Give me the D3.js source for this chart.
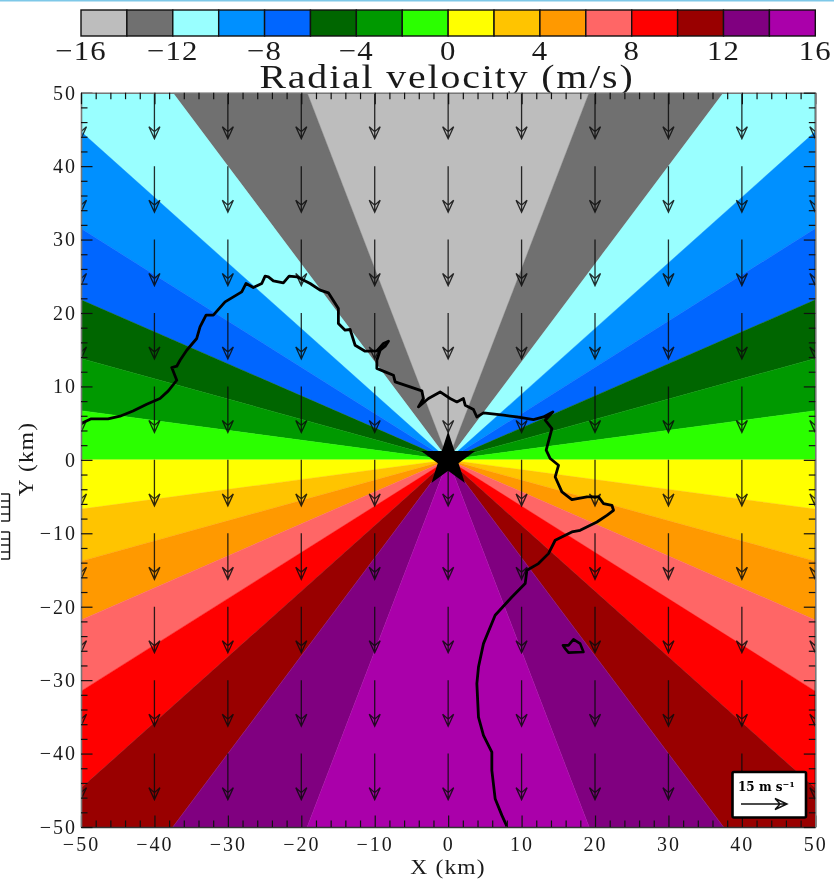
<!DOCTYPE html>
<html><head><meta charset="utf-8">
<style>
html,body{margin:0;padding:0;background:#fff;overflow:hidden}
svg{display:block;filter:blur(0.45px)}
text{font-family:"Liberation Serif","DejaVu Serif",serif;fill:#1a1a1a}
</style>
<script src="https://cdn.jsdelivr.net/npm/d3@7/dist/d3.min.js"></script>
</head><body><svg id="c" width="834" height="882"></svg>
<script>
const levels=[-16,-14,-12,-10,-8,-6,-4,-2,0,2,4,6,8,10,12,14,16];
const colorbarTicks=[-16,-12,-8,-4,0,4,8,12,16];
const bandColors=["#bdbdbd","#707070","#99ffff","#0090ff","#0066ff","#006600","#009900","#2bff00","#ffff00","#ffc400","#ff9900","#ff6666","#ff0000","#990000","#800080","#aa00aa"];
// where each band boundary meets the frame on the right side, top to bottom (km)
const bandEdges=[[19.2,50],[37.5,50],[50,44.7],[50,31.5],[50,21.8],[50,13.8],[50,6.7],[50,0],[50,-6.7],[50,-13.8],[50,-21.8],[50,-31.5],[50,-44.7],[37.5,-50],[19.2,-50]];
const axisTicks=[-50,-40,-30,-20,-10,0,10,20,30,40,50];
const minorTicks=[-48,-46,-44,-42,-38,-36,-34,-32,-28,-26,-24,-22,-18,-16,-14,-12,-8,-6,-4,-2,2,4,6,8,12,14,16,18,22,24,26,28,32,34,36,38,42,44,46,48];
const arrowX=[-50,-40,-30,-20,-10,0,10,20,30,40,50];
const arrowY=[50,40,30,20,10,0,-10,-20,-30,-40];
const windU=0, windV=-15, keySpeed=15;
const coast=[[-50,4.95],[-48.68,5.57],[-46.32,5.57],[-44.69,5.94],[-42.92,6.66],[-41.05,7.57],[-39.24,8.35],[-38.11,9.39],[-36.96,10.84],[-37.64,12.57],[-36.96,12.75],[-36.51,13.57],[-35.6,14.93],[-34.24,16.53],[-33.79,18.11],[-32.97,19.7],[-31.98,19.7],[-30.38,21.51],[-28.11,22.87],[-27.52,24.02],[-26.53,23.47],[-25.38,24.02],[-24.93,25.01],[-24.48,24.92],[-23.8,24.37],[-22.44,24.1],[-21.66,25.01],[-20.61,24.92],[-18.8,24.02],[-17.44,23.11],[-16.31,22.74],[-14.95,20.61],[-14.95,18.57],[-14.03,17.66],[-13.35,17.75],[-12.67,15.61],[-11.31,14.8],[-9.71,14.84],[-8.81,15.84],[-8.13,16.16],[-8.58,15.48],[-9.26,14.93],[-9.71,13.57],[-9.71,12.44],[-8.58,11.98],[-7.45,11.53],[-7.22,10.61],[-5.18,9.93],[-3.58,9.39],[-3.37,8.35],[-4.05,7.21],[-2.68,8.35],[-1.09,9.25],[0.27,8.35],[1.19,7.89],[2.08,8.35],[2.32,7.44],[3.45,6.85],[3.91,5.84],[4.81,6.39],[7.53,6.08],[9.36,5.84],[11.62,5.49],[12.98,5.84],[14.26,6.53],[13.22,5.4],[14.13,4.26],[13.35,1.31],[13.9,0.18],[15.03,-0.74],[14.58,-2.33],[15.49,-4.37],[16.85,-5.41],[18.9,-5.05],[20.48,-5.05],[21.16,-5.95],[22.3,-6.19],[22.52,-6.87],[21.62,-7.55],[20.26,-8.46],[17.98,-9.59],[16.85,-9.82],[14.58,-10.95],[13.66,-12.77],[12.3,-14.13],[10.72,-15.04],[10.49,-16.85],[8.68,-18.68],[6.4,-21.17],[4.81,-25.03],[4.13,-28.22],[3.91,-30.48],[4.13,-35.03],[4.81,-37.52],[5.95,-39.8],[5.95,-42.29],[6.4,-46.14],[7.32,-48.42],[8,-49.92]];
const island=[[15.63,-25.26],[16.39,-25.26],[17.07,-24.44],[17.98,-25.03],[18.43,-26.17],[16.39,-26.25],[15.94,-25.71]];

const svg=d3.select("#c");
const L=81,R=815.3,T=92.7,B=827;
const x=d3.scaleLinear().domain([-50,50]).range([L,R]);
const y=d3.scaleLinear().domain([-50,50]).range([B,T]);
const cb=d3.scaleLinear().domain([-16,16]).range([L,R]);

// top rule
svg.append("rect").attr("x",0).attr("y",0).attr("width",834).attr("height",1.5).attr("fill","#7ec8e8");

// colorbar
svg.append("g").selectAll("rect").data(bandColors).join("rect")
  .attr("x",(d,i)=>cb(levels[i])).attr("width",(d,i)=>cb(levels[i+1])-cb(levels[i]))
  .attr("y",10).attr("height",26).attr("fill",d=>d)
  .attr("stroke","#111").attr("stroke-width",1.4);
svg.append("g").selectAll("text").data(colorbarTicks).join("text")
  .attr("transform",d=>`translate(${cb(d)},60) scale(1.12,1)`).attr("text-anchor","middle")
  .attr("font-size",27.5).attr("letter-spacing",1)
  .text(d=>d3.format("d")(d));
svg.append("text").attr("transform","translate(447,88) scale(1.17,1)").attr("text-anchor","middle")
  .attr("font-size",34).attr("letter-spacing",1.6).text("Radial velocity (m/s)");

// plot
const defs=svg.append("defs");
defs.append("clipPath").attr("id","plotClip").append("rect")
  .attr("x",L).attr("y",T).attr("width",R-L).attr("height",B-T);
const plot=svg.append("g").attr("clip-path","url(#plotClip)");
const line=d3.line().x(d=>x(d[0])).y(d=>y(d[1]));
function wedge(a,b){
  const p=[[0,0],a];
  if(a[0]!==b[0]&&a[1]!==b[1]) p.push([Math.abs(a[0])===50?a[0]:b[0],Math.abs(a[1])===50?a[1]:b[1]]);
  p.push(b);return p;
}
const mirror=p=>[-p[0],p[1]];
const polys=[];
bandColors.forEach((c,i)=>{
  if(i===0) polys.push({c,p:wedge(mirror(bandEdges[0]),bandEdges[0])});
  else if(i===bandColors.length-1) polys.push({c,p:wedge(mirror(bandEdges[i-1]),bandEdges[i-1])});
  else{
    polys.push({c,p:wedge(bandEdges[i-1],bandEdges[i])});
    polys.push({c,p:wedge(mirror(bandEdges[i-1]),mirror(bandEdges[i]))});
  }
});
plot.append("g").selectAll("path").data(polys).join("path")
  .attr("d",d=>line(d.p)+"Z").attr("fill",d=>d.c).attr("stroke",d=>d.c).attr("stroke-width",0.4);

// wind vectors
const kmPerMs=6.27/15;
const grid=d3.cross(arrowX,arrowY);
function arrowPath(x0,y0,x1,y1){
  const len=Math.hypot(x1-x0,y1-y0),ux=(x1-x0)/len,uy=(y1-y0)/len,nx=-uy,ny=ux;
  const pt=(b,s)=>[x1-ux*b+nx*s,y1-uy*b+ny*s];
  const a=pt(12,5.5),c=pt(12,-5.5),n=pt(7,0);
  return `M${x0},${y0}L${x1},${y1}M${a}L${x1},${y1}L${c}L${n}Z`;
}
plot.append("g").attr("fill","none").attr("stroke","#0a0a0a").attr("stroke-width",1.3).attr("stroke-opacity",0.85)
  .selectAll("path").data(grid).join("path")
  .attr("d",d=>arrowPath(x(d[0]),y(d[1]),x(d[0]+windU*kmPerMs),y(d[1]+windV*kmPerMs)));

// coast
plot.append("path").attr("d",line(coast)).attr("fill","none").attr("stroke","#000").attr("stroke-width",2.8).attr("stroke-linejoin","round");
plot.append("path").attr("d",line(island)+"Z").attr("fill","none").attr("stroke","#000").attr("stroke-width",2.6).attr("stroke-linejoin","round");

// station star
svg.append("path").attr("d",d3.symbol(d3.symbolStar,912)()).attr("transform",`translate(${x(0)},${y(0)})`).attr("fill","#000");

// axes
const fmt=d=>d3.format("d")(d);
function style(g,frame){
  g.selectAll(".domain").attr("stroke",frame).attr("stroke-width",1.6);
  g.selectAll(".tick line").attr("stroke","#111").attr("stroke-width",1.2);
  g.selectAll("text").attr("font-size",20).attr("letter-spacing",2).style("font-family",'"Liberation Serif",serif').attr("fill","#222");
}
const axes=[
 [()=>d3.axisBottom(x),`translate(0,${B})`,true,10,"#333"],
 [()=>d3.axisLeft(y),`translate(${L},0)`,true,4,"#777"],
 [()=>d3.axisTop(x),`translate(0,${T})`,false,4,"#777"],
 [()=>d3.axisRight(y),`translate(${R},0)`,false,4,"#777"]];
axes.forEach(([mk,tr,lab,pad,frame])=>{
  const ax=mk().tickValues(axisTicks).tickSizeInner(-11.5).tickSizeOuter(0).tickPadding(pad).tickFormat(lab?fmt:"");
  style(svg.append("g").attr("transform",tr).call(ax),frame);
  const mn=mk().tickValues(minorTicks).tickSizeInner(-6.5).tickSizeOuter(0).tickFormat("");
  const m=svg.append("g").attr("transform",tr).call(mn);style(m,frame);m.select(".domain").remove();
});

svg.append("text").attr("transform","translate(448,874) scale(1.12,1)").attr("text-anchor","middle").attr("font-size",21).attr("letter-spacing",1).text("X (km)");
svg.append("text").attr("transform","translate(33,459) rotate(-90) scale(1.12,1)").attr("text-anchor","middle").attr("font-size",21).attr("letter-spacing",1).text("Y (km)");

// velocity key
svg.append("rect").attr("x",732.5).attr("y",772).attr("width",73.5).attr("height",45.5).attr("rx",1.5)
  .attr("fill","#fff").attr("stroke","#000").attr("stroke-width",2.6);
svg.append("text").attr("x",738).attr("y",791).attr("font-size",12).attr("font-weight","bold").style("fill","#000")
  .style("font-family",'"DejaVu Serif",serif')
  .html('15 m s<tspan dy="-4" font-size="8">\u22121</tspan>');
svg.append("path").attr("fill","none").attr("stroke","#111").attr("stroke-width",1.4)
  .attr("d",arrowPath(741,804,741+(x(keySpeed*kmPerMs)-x(0)),804));

// stray marks at the left edge
const combs=[494,532];
const g=svg.append("g").attr("stroke","#111").attr("stroke-width",1.4).attr("fill","none");
combs.forEach(c=>{
  g.append("path").attr("d",`M9.5,${c}V${c+27}`);
  [0,7,13,20,27].forEach(o=>g.append("path").attr("d",`M1,${c+o}H9.5`));
});
</script></body></html>
